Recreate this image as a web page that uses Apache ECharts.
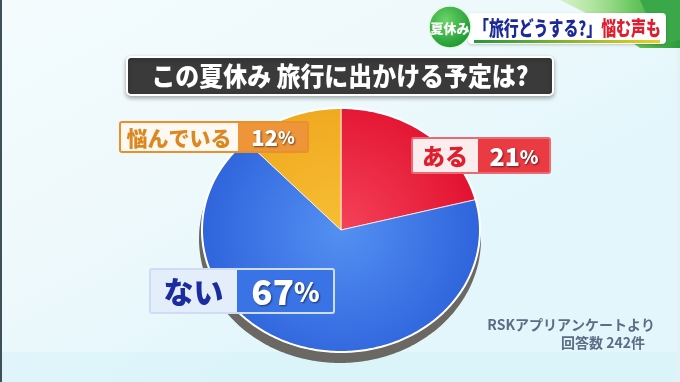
<!DOCTYPE html>
<html><head><meta charset="utf-8">
<script src="https://cdn.jsdelivr.net/npm/echarts@6/dist/echarts.min.js"></script>
<style>html,body{margin:0;padding:0;background:#eef8fb;overflow:hidden}#c{width:680px;height:382px}</style>
</head><body><div id="c"></div><script>
// ---- data ----
const categories = ['ある', 'ない', '悩んでいる'];
const values = [21, 67, 12];
const titleText = 'この夏休み 旅行に出かける予定は?';
const headlineBlue = '「旅行どうする?」';
const headlineRed = '悩む声も';
const badgeText = '夏休み';
const sourceLines = ['RSKアプリアンケートより', '回答数 242件'];

// ---- layout / style ----
const FONT = '"Noto Sans CJK JP", "Noto Sans", sans-serif';
const W = 900;
const PIE = { cx: 341, cy: 230, rx: 139, ry: 122 };
const sliceFill = [
  ['#f5425a', '#e2122f'],
  ['#5490f2', '#2f64dc'],
  ['#f7be34', '#efa71f']
];
const labelBoxes = [
  { x: 412, y: 138, w: 138, h: 35, split: 66, leftFill: '#fbecee', rightFill: '#ea3a42', border: '#ea6a74', nameColor: '#e01f2e', nameSize: 23, numSize: 25, pctSize: 19 },
  { x: 150, y: 269, w: 184, h: 44, split: 87, leftFill: '#e4edfa', rightFill: '#3a73e6', border: '#cfdcf5', nameColor: '#1b2c9e', nameSize: 30, numSize: 35, pctSize: 26 },
  { x: 120, y: 122, w: 188, h: 30, split: 118, leftFill: '#fdf8f1', rightFill: '#ee953a', border: '#e8902c', nameColor: '#dc8820', nameSize: 21, numSize: 22, pctSize: 17 }
];

function ellipsePts(a0, a1, withCenter, dx, dy, grow) {
  dx = dx || 0; dy = dy || 0; grow = grow || 0;
  const pts = [];
  if (withCenter) pts.push([PIE.cx + dx, PIE.cy + dy]);
  const n = Math.max(2, Math.ceil((a1 - a0) / (Math.PI / 180)));
  for (let k = 0; k <= n; k++) {
    const a = a0 + (a1 - a0) * k / n;
    pts.push([PIE.cx + dx + (PIE.rx + grow) * Math.sin(a), PIE.cy + dy - (PIE.ry + grow) * Math.cos(a)]);
  }
  return pts;
}

function renderItem(params, api) {
  const i = params.dataIndex;
  const total = values.reduce((s, v) => s + v, 0);
  const before = values.slice(0, i).reduce((s, v) => s + v, 0);
  const v = api.value(0);
  const a0 = before / total * 2 * Math.PI;
  const a1 = (before + v) / total * 2 * Math.PI;
  const children = [];
  if (i === 0) {
    children.push({ type: 'polygon', shape: { points: ellipsePts(0, 2 * Math.PI, false, -1, 9, 2) }, style: { fill: '#6b6763' } });
  }
  children.push({
    type: 'polygon',
    shape: { points: ellipsePts(a0, a1, true) },
    style: {
      fill: { type: 'radial', x: PIE.cx, y: PIE.cy, r: PIE.rx, global: true,
        colorStops: [{ offset: 0, color: sliceFill[i][0] }, { offset: 1, color: sliceFill[i][1] }] },
      stroke: 'rgba(255,255,255,0.75)', lineWidth: 1
    }
  });
  if (i === values.length - 1) {
    children.push({ type: 'polygon', shape: { points: ellipsePts(0, 2 * Math.PI, false) }, style: { fill: 'none', stroke: '#ffffff', lineWidth: 2 } });
  }
  return { type: 'group', children };
}

const TOP = 200;
function makeLabel(i) {
  const b = labelBoxes[i];
  const rw = b.w - b.split;
  const shadow = { textShadowColor: 'rgba(0,0,0,0.55)', textShadowBlur: 2, textShadowOffsetX: 1, textShadowOffsetY: 1 };
  return {
    type: 'group', x: b.x, y: b.y, z: TOP,
    children: [
      { type: 'rect', z: TOP, shape: { x: 0, y: 0, width: b.split, height: b.h }, style: { fill: b.leftFill } },
      { type: 'rect', z: TOP, shape: { x: b.split, y: 0, width: rw, height: b.h }, style: { fill: b.rightFill } },
      { type: 'rect', z: TOP + 1, shape: { x: 0, y: 0, width: b.w, height: b.h, r: 2 }, style: { fill: 'none', stroke: b.border, lineWidth: 2 } },
      { type: 'text', z: TOP + 2, x: b.split / 2, y: b.h / 2 + 1, style: {
          text: categories[i], fontFamily: FONT, fontWeight: W, fontSize: b.nameSize,
          fill: b.nameColor, align: 'center', verticalAlign: 'middle' } },
      { type: 'text', z: TOP + 2, x: b.split + rw / 2, y: b.h / 2 + 1, style: {
          text: '{n|' + values[i] + '}{p|%}', align: 'center', verticalAlign: 'middle',
          rich: {
            n: Object.assign({ fontFamily: FONT, fontWeight: W, fontSize: b.numSize, fill: '#ffffff' }, shadow),
            p: Object.assign({ fontFamily: FONT, fontWeight: W, fontSize: b.pctSize, fill: '#ffffff' }, shadow)
          } } }
    ]
  };
}

const graphics = [
  // background decorations
  { type: 'rect', z: -10, shape: { x: 0, y: 352, width: 680, height: 30 }, style: { fill: 'rgba(205,242,250,0.35)' } },
  { type: 'rect', z: -10, shape: { x: 0, y: 0, width: 2, height: 382 }, style: { fill: '#3e5058' } },
  { type: 'rect', z: -10, shape: { x: 677, y: 0, width: 3, height: 382 }, style: { fill: '#e4f2f6' } },
  { type: 'polygon', z: -9, shape: { points: [[560, 0], [680, 0], [680, 48], [640, 48], [600, 20]] },
    style: { fill: { type: 'linear', x: 0, y: 0, x2: 1, y2: 0, colorStops: [{ offset: 0, color: 'rgba(190,235,150,0.5)' }, { offset: 0.6, color: '#6cc860' }, { offset: 1, color: '#2a9a3a' }] } } },
  { type: 'polygon', z: -9, shape: { points: [[640, 0], [680, 0], [680, 40], [660, 44]] }, style: { fill: '#3aa848' } },
  // headline banner
  { type: 'rect', z: 50, shape: { x: 468, y: 13, width: 198, height: 31, r: 4 }, style: { fill: '#ffffff', shadowBlur: 3, shadowColor: 'rgba(0,0,0,0.2)', shadowOffsetY: 1 } },
  { type: 'rect', z: 51, shape: { x: 474, y: 40, width: 186, height: 3 },
    style: { fill: { type: 'linear', x: 0, y: 0, x2: 1, y2: 0, colorStops: [{ offset: 0, color: '#1f9a3c' }, { offset: 1, color: '#e8d21e' }] } } },
  { type: 'text', z: 52, x: 474, y: 28, scaleX: 0.745, style: {
      text: '{b|' + headlineBlue + '}{r|' + headlineRed + '}', align: 'left', verticalAlign: 'middle',
      rich: { b: { fontFamily: FONT, fontWeight: W, fontSize: 20, fill: '#1c2a98' }, r: { fontFamily: FONT, fontWeight: W, fontSize: 20, fill: '#de1e2e' } } } },
  { type: 'circle', z: 53, shape: { cx: 450, cy: 27, r: 21 },
    style: { fill: { type: 'radial', x: 0.4, y: 0.35, r: 0.7, colorStops: [{ offset: 0, color: '#6cd468' }, { offset: 1, color: '#17952e' }] }, stroke: '#e8f8e8', lineWidth: 1.5 } },
  { type: 'text', z: 54, x: 450, y: 28, style: { text: badgeText, fontFamily: FONT, fontWeight: W, fontSize: 13, fill: '#ffffff', align: 'center', verticalAlign: 'middle' } },
  // title
  { type: 'rect', z: 60, shape: { x: 127, y: 57, width: 426, height: 38, r: 4 },
    style: { fill: '#3a3a3a', stroke: '#ffffff', lineWidth: 2, shadowBlur: 4, shadowColor: 'rgba(0,0,0,0.3)', shadowOffsetY: 2 } },
  { type: 'text', z: 61, x: 340, y: 76, scaleX: 0.92, style: { text: titleText, fontFamily: FONT, fontWeight: W, fontSize: 26, fill: '#ffffff', align: 'center', verticalAlign: 'middle' } },
  // source
  { type: 'text', z: 61, x: 655, y: 325, style: { text: sourceLines[0], fontFamily: FONT, fontWeight: 'bold', fontSize: 14, fill: '#5a6d86', align: 'right', verticalAlign: 'middle' } },
  { type: 'text', z: 61, x: 645, y: 343, style: { text: sourceLines[1], fontFamily: FONT, fontWeight: 'bold', fontSize: 14, fill: '#5a6d86', align: 'right', verticalAlign: 'middle' } }
];
categories.forEach((c, i) => graphics.push(makeLabel(i)));

const chart = echarts.init(document.getElementById('c'), null, { renderer: 'canvas' });
chart.setOption({
  animation: false,
  backgroundColor: { type: 'linear', x: 0, y: 0, x2: 0.3, y2: 1, colorStops: [{ offset: 0, color: '#f3fbfd' }, { offset: 0.6, color: '#eef9fc' }, { offset: 1, color: '#e2f6fb' }] },
  series: [{
    type: 'custom', coordinateSystem: 'none', renderItem: renderItem, z: 1,
    data: values.map((v, i) => ({ name: categories[i], value: [v] }))
  }],
  graphic: { elements: graphics }
});
</script></body></html>
